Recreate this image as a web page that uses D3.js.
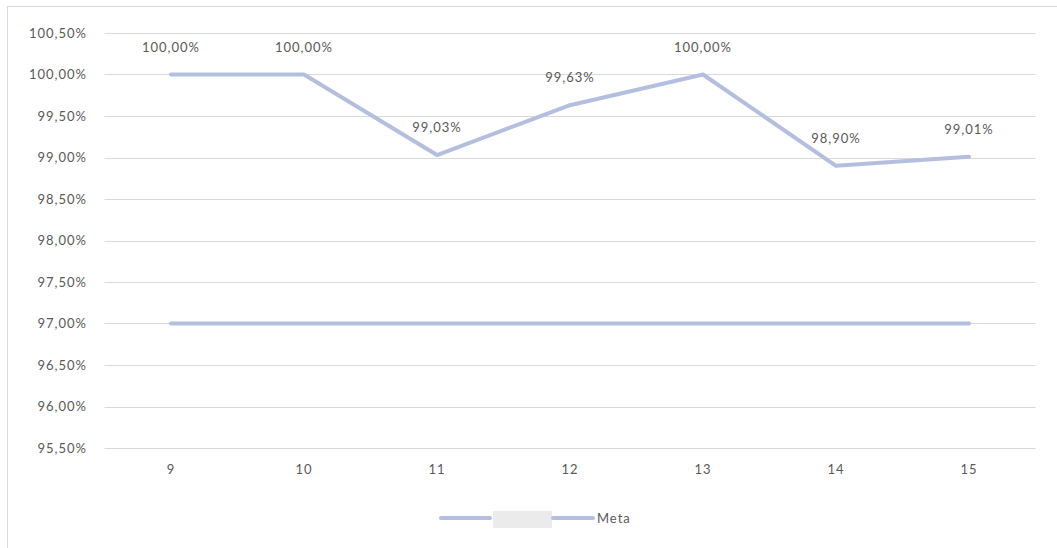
<!DOCTYPE html>
<html>
<head>
<meta charset="utf-8">
<script src="https://cdn.jsdelivr.net/npm/d3@7"></script>
<style>
  html, body { margin: 0; padding: 0; background: #fff; }
  svg { display: block; font-family: Lato, "Open Sans", sans-serif; }
  .lbl { font-size: 13px; letter-spacing: 1px; fill: #595959; }
</style>
</head>
<body>
<svg id="chart" width="1057" height="548"></svg>
<script>
// Weekly values and the target line
const weeks = ["9", "10", "11", "12", "13", "14", "15"];
const values = [100.00, 100.00, 99.03, 99.63, 100.00, 98.90, 99.01];
const meta = [97.00, 97.00, 97.00, 97.00, 97.00, 97.00, 97.00];
const yTicks = [95.5, 96.0, 96.5, 97.0, 97.5, 98.0, 98.5, 99.0, 99.5, 100.0, 100.5];
const seriesNames = ["", "Meta"];

const svg = d3.select("#chart");
const lineColor = "#b4bfe0";
const gridColor = "#d9d9d9";

const fmt = v => v.toFixed(2).replace(".", ",") + "%";

// Outer chart frame
svg.append("rect")
  .attr("x", 7.5).attr("y", 6.5)
  .attr("width", 1060).attr("height", 560)
  .attr("fill", "none").attr("stroke", "#d9d9d9");

const x = d3.scaleBand().domain(weeks).range([104.5, 1035.5]);
const y = d3.scaleLinear().domain([95.5, 100.5]).range([448, 33]);

// Gridlines
svg.append("g").selectAll("line").data(yTicks).join("line")
  .attr("x1", 104.5).attr("x2", 1035.5)
  .attr("y1", d => Math.round(y(d)) + 0.5).attr("y2", d => Math.round(y(d)) + 0.5)
  .attr("stroke", gridColor).attr("stroke-width", 1);

// Y axis labels
const yAxis = d3.axisLeft(y).tickValues(yTicks).tickFormat(fmt).tickSize(0).tickPadding(0);
const gy = svg.append("g").attr("transform", "translate(87,0)").call(yAxis);
gy.select(".domain").remove();
gy.selectAll("text").attr("class", "lbl");
gy.attr("font-family", null).attr("font-size", null);

// X axis labels
const xAxis = d3.axisBottom(x).tickSize(0).tickPadding(0);
const gx = svg.append("g").attr("transform", "translate(0,465)").call(xAxis);
gx.select(".domain").remove();
gx.selectAll("text").attr("class", "lbl");
gx.attr("font-family", null).attr("font-size", null);

const cx = d => x(d) + x.bandwidth() / 2;
const line = d3.line().x((d, i) => cx(weeks[i])).y(d => y(d));

// Target line
svg.append("path").datum(meta).attr("d", line)
  .attr("fill", "none").attr("stroke", lineColor)
  .attr("stroke-width", 4).attr("stroke-linecap", "round");

// Main series
svg.append("path").datum(values).attr("d", line)
  .attr("fill", "none").attr("stroke", lineColor)
  .attr("stroke-width", 4).attr("stroke-linecap", "round")
  .attr("stroke-linejoin", "round");

// Data labels
svg.append("g").selectAll("text").data(values).join("text")
  .attr("class", "lbl")
  .attr("x", (d, i) => cx(weeks[i]))
  .attr("y", d => y(d) - 23)
  .attr("text-anchor", "middle")
  .text(d => fmt(d));

// Legend
const lg = svg.append("g");
lg.append("line").attr("x1", 441).attr("x2", 490).attr("y1", 518).attr("y2", 518)
  .attr("stroke", lineColor).attr("stroke-width", 4).attr("stroke-linecap", "round");
lg.append("rect").attr("x", 493).attr("y", 511).attr("width", 59).attr("height", 17)
  .attr("fill", "#ebebeb");
lg.append("text").attr("class", "lbl").attr("x", 495).attr("y", 522).text(seriesNames[0]);
lg.append("line").attr("x1", 553).attr("x2", 593).attr("y1", 518).attr("y2", 518)
  .attr("stroke", lineColor).attr("stroke-width", 4).attr("stroke-linecap", "round");
lg.append("text").attr("class", "lbl").attr("x", 597).attr("y", 523).text(seriesNames[1]);
</script>
</body>
</html>
